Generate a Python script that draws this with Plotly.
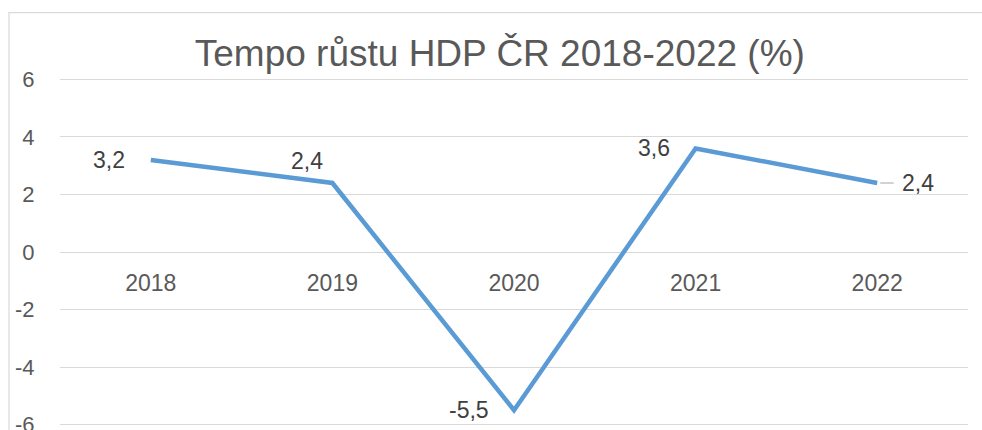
import plotly.graph_objects as go

years = ["2018", "2019", "2020", "2021", "2022"]
growth = [3.2, 2.4, -5.5, 3.6, 2.4]
y_tick_vals = [-6, -4, -2, 0, 2, 4, 6]
y_tick_text = ["-6", "-4", "-2", "0", "2", "4", "6"]
title_text = "Tempo růstu HDP ČR 2018-2022 (%)"

FONT = "Liberation Sans, Arial, Helvetica, sans-serif"
GRID = "#D9D9D9"
TICK_COLOR = "#595959"
LABEL_COLOR = "#404040"
LINE_COLOR = "#5B9BD5"

fig = go.Figure()
fig.add_trace(go.Scatter(
    x=years, y=growth, mode="lines",
    line=dict(color=LINE_COLOR, width=4.5),
    hoverinfo="skip", showlegend=False,
))

# data label placement per point: (xanchor, xshift, yshift)
placements = [("right", -24, 0), ("right", -7, 22), ("right", -23, 0), ("right", -24, 0), (None, 0, 0)]

def fmt(v):
    return f"{v:.1f}".replace(".", ",")

for i, (v, (xa, xs, ys)) in enumerate(zip(growth, placements)):
    if xa is None:
        fig.add_annotation(
            x=i, y=v, xref="x", yref="y", text=fmt(v),
            showarrow=True, arrowhead=0, arrowwidth=1.2, arrowcolor="#A6A6A6",
            ax=41, ay=0, standoff=3, startstandoff=7,
            font=dict(family=FONT, size=23, color=LABEL_COLOR),
        )
    else:
        fig.add_annotation(
            x=i, y=v, xref="x", yref="y", text=fmt(v), showarrow=False,
            xanchor=xa, yanchor="middle", xshift=xs, yshift=ys,
            font=dict(family=FONT, size=23, color=LABEL_COLOR),
        )

# chart frame
fig.add_shape(type="rect", xref="paper", yref="paper",
              x0=-0.0562, x1=1.2, y0=-0.2, y1=1.188,
              line=dict(color=GRID, width=1.2), layer="below")

fig.update_layout(
    width=982, height=430,
    margin=dict(l=60, r=14, t=77.56, b=3.84, autoexpand=False),
    paper_bgcolor="white", plot_bgcolor="white",
    title=dict(text=title_text, x=0.509, xref="container", xanchor="center",
               y=1 - 53 / 430, yref="container", yanchor="middle",
               font=dict(family=FONT, size=37, color=TICK_COLOR)),
    xaxis=dict(
        type="category", range=[-0.5, 4.5],
        anchor="free", position=0.5, automargin=False,
        showgrid=False, showline=False, zeroline=False,
        ticks="outside", ticklen=10, tickcolor="rgba(0,0,0,0)",
        tickfont=dict(family=FONT, size=23, color=TICK_COLOR),
    ),
    yaxis=dict(
        range=[-6.05, 6.05], tickvals=y_tick_vals, ticktext=y_tick_text,
        showgrid=True, gridcolor=GRID, gridwidth=1.3, automargin=False,
        zeroline=False, showline=False, ticklabeloverflow="allow",
        ticks="outside", ticklen=20, tickcolor="rgba(0,0,0,0)",
        tickfont=dict(family=FONT, size=22, color=TICK_COLOR),
    ),
)

fig.write_html("out.html", config={"displayModeBar": False},
               post_script="document.body.style.margin='0';document.body.style.overflow='hidden';")
